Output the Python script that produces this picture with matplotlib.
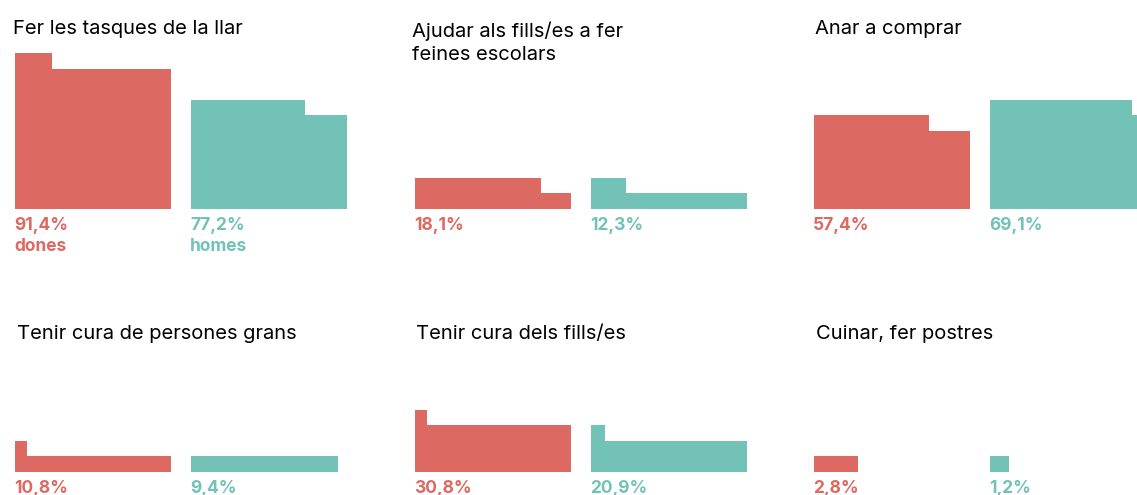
import matplotlib.pyplot as plt

plt.rcParams['font.family'] = ['Inter', 'DejaVu Sans']

# Dades
titols = ['Fer les tasques de la llar',
          'Ajudar als fills/es a fer\nfeines escolars',
          'Anar a comprar',
          'Tenir cura de persones grans',
          'Tenir cura dels fills/es',
          'Cuinar, fer postres']
dones = [92.4, 18.1, 57.4, 10.8, 30.8, 2.8]      # valor dibuixat (%)
homes = [67.3, 12.3, 69.1, 9.4, 20.9, 1.2]
etiq_dones = ['91,4%', '18,1%', '57,4%', '10,8%', '30,8%', '2,8%']
etiq_homes = ['77,2%', '12,3%', '69,1%', '9,4%', '20,9%', '1,2%']

VERMELL = '#dc6a63'
VERD = '#72c2b8'

W, H = 1137, 495
u = 15.6                      # px per fila (10 %)
col_x = [15, 414.5, 814]
fila_base = [209, 472]
tit_x = [[13, 412, 815], [17, 416, 816]]
tit_y = [33.5, 339]
x_homes = 176 / u             # desplaçament del bloc dels homes

fig = plt.figure(figsize=(W / 100, H / 100), dpi=100)


def blocs(ax, x0, v, color):
    plens = v // 10
    resta = v - plens * 10
    if plens > 0:
        ax.bar(x0, plens, width=10, bottom=0, align='edge', color=color,
               linewidth=0, clip_on=False)
    ax.bar(x0, 1, width=resta, bottom=plens, align='edge', color=color,
           linewidth=0, clip_on=False)


for i in range(6):
    r, c = divmod(i, 3)
    left = col_x[c]
    base = fila_base[r]
    ax = fig.add_axes([left / W, (H - base) / H, 24 * u / W, 10 * u / H])
    ax.set_xlim(0, 24)
    ax.set_ylim(0, 10)
    ax.axis('off')

    blocs(ax, 0, dones[i], VERMELL)
    blocs(ax, x_homes, homes[i], VERD)

    ax.text(-0.05, -21 / u, etiq_dones[i], color=VERMELL, fontsize=12.5,
            fontweight='bold', va='baseline', ha='left', clip_on=False)
    ax.text(x_homes - 0.05, -21 / u, etiq_homes[i], color=VERD, fontsize=12.5,
            fontweight='bold', va='baseline', ha='left', clip_on=False)
    if i == 0:
        ax.text(-0.05, -42 / u, 'dones', color=VERMELL, fontsize=12.5,
                fontweight='bold', va='baseline', ha='left')
        ax.text(x_homes - 0.05, -42 / u, 'homes', color=VERD, fontsize=12.5,
                fontweight='bold', va='baseline', ha='left')

    n_linies = titols[i].count('\n')
    fig.text(tit_x[r][c] / W, 1 - (tit_y[r] + 26 * n_linies) / H, titols[i],
             fontsize=14.5, color='black', va='baseline', ha='left',
             linespacing=1.3)

fig.savefig('out.png', dpi=100)
